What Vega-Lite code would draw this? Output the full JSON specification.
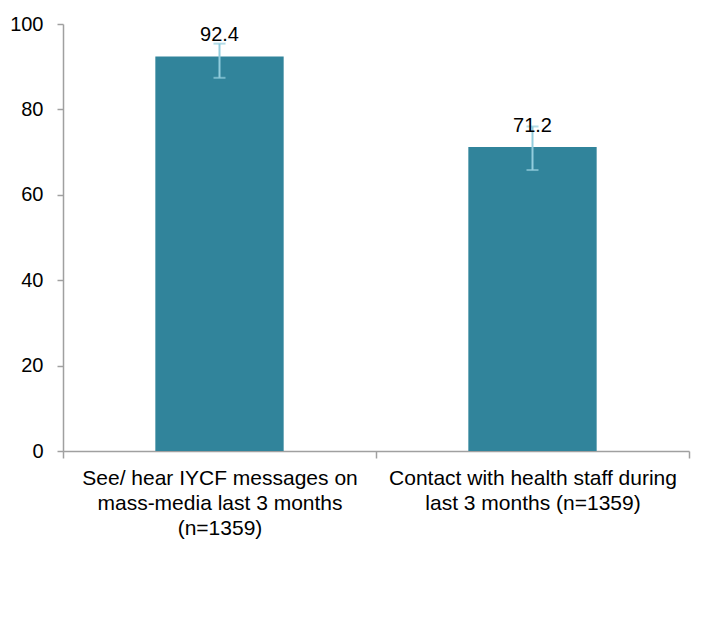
{
  "$schema": "https://vega.github.io/schema/vega-lite/v6.json",
  "width": 626,
  "height": 427,
  "autosize": "none",
  "padding": {"left": 63, "top": 24, "right": 27, "bottom": 167},
  "background": "white",
  "config": {
    "view": {"stroke": null},
    "font": "Liberation Sans"
  },
  "data": {
    "values": [
      {"indicator": "See/ hear IYCF messages on mass-media last 3 months (n=1359)", "value": 92.4, "lower": 87.4, "upper": 95.4},
      {"indicator": "Contact with health staff during last 3 months (n=1359)", "value": 71.2, "lower": 65.8, "upper": 76.0}
    ]
  },
  "encoding": {
    "x": {
      "field": "indicator",
      "type": "nominal",
      "sort": null,
      "scale": {"paddingInner": 0, "paddingOuter": 0},
      "axis": {
        "title": null,
        "labelAngle": 0,
        "labelFont": "Liberation Sans",
        "labelFontSize": 21,
        "labelColor": "#000000",
        "labelLineHeight": 25,
        "labelPadding": 9,
        "labelBaseline": "top",
        "labelLimit": 0,
        "labelOverlap": false,
        "labelExpr": "datum.value == 'See/ hear IYCF messages on mass-media last 3 months (n=1359)' ? ['See/ hear IYCF messages on', 'mass-media last 3 months', '(n=1359)'] : datum.value == 'Contact with health staff during last 3 months (n=1359)' ? ['Contact with health staff during', 'last 3 months (n=1359)'] : ''",
        "tickBand": "extent",
        "ticks": true,
        "tickSize": 7,
        "tickColor": "#A0A0A0",
        "domainColor": "#A0A0A0",
        "domainWidth": 1.5,
        "tickWidth": 1.5,
        "grid": false
      }
    }
  },
  "layer": [
    {
      "mark": {"type": "bar", "color": "#31849B", "width": {"band": 0.41}},
      "encoding": {
        "y": {
          "field": "value",
          "type": "quantitative",
          "scale": {"domain": [0, 100], "nice": false},
          "axis": {
            "title": null,
            "values": [0, 20, 40, 60, 80, 100],
            "labelFont": "Liberation Sans",
            "labelFontSize": 20,
            "labelColor": "#000000",
            "labelPadding": 14,
            "tickSize": 6,
            "tickColor": "#A0A0A0",
            "tickWidth": 1.5,
            "domainColor": "#A0A0A0",
            "domainWidth": 1.5,
            "grid": false
          }
        }
      }
    },
    {
      "mark": {"type": "rule", "color": "#93CDDD", "strokeWidth": 2},
      "encoding": {
        "y": {"field": "lower", "type": "quantitative"},
        "y2": {"field": "upper"}
      }
    },
    {
      "mark": {"type": "tick", "color": "#93CDDD", "size": 12, "thickness": 2, "orient": "horizontal"},
      "encoding": {
        "y": {"field": "lower", "type": "quantitative"}
      }
    },
    {
      "mark": {"type": "tick", "color": "#93CDDD", "size": 12, "thickness": 2, "orient": "horizontal"},
      "encoding": {
        "y": {"field": "upper", "type": "quantitative"}
      }
    },
    {
      "mark": {"type": "text", "baseline": "alphabetic", "dy": -15, "fontSize": 20, "font": "Liberation Sans", "color": "#000000"},
      "encoding": {
        "y": {"field": "value", "type": "quantitative"},
        "text": {"field": "value", "type": "quantitative", "format": ".1f"}
      }
    }
  ]
}
